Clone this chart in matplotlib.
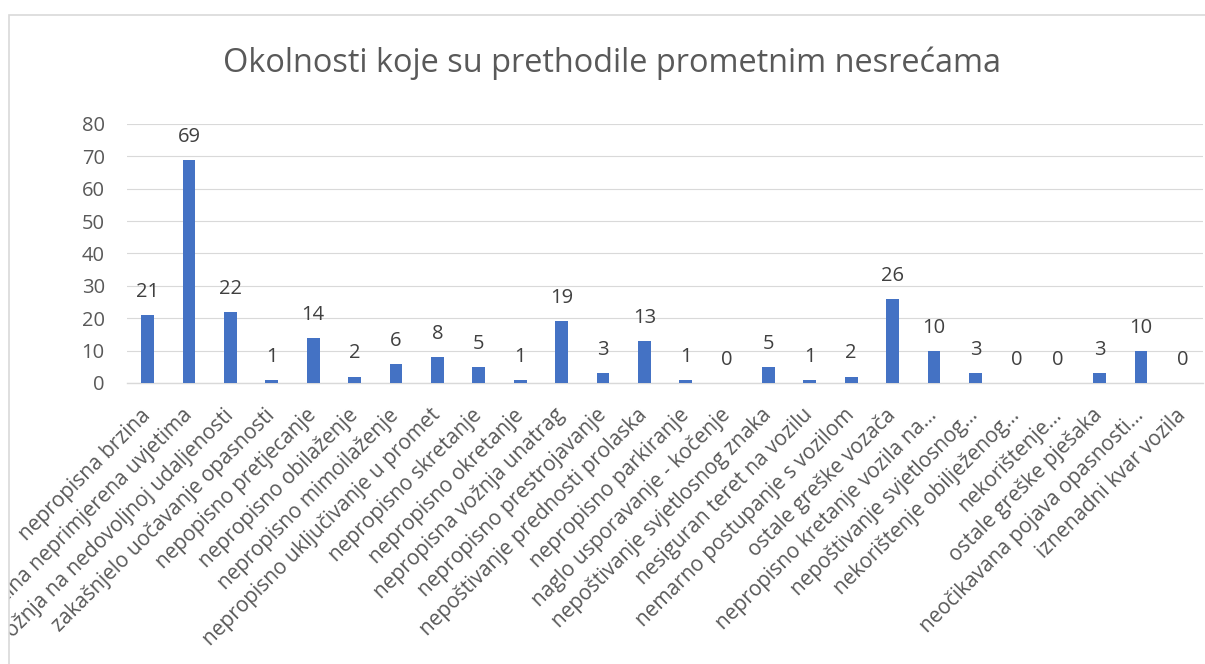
import matplotlib.pyplot as plt
from matplotlib.patches import Rectangle
from matplotlib.transforms import Bbox, TransformedBbox

categories = [
    "nepropisna brzina",
    "brzina neprimjerena uvjetima",
    "vožnja na nedovoljnoj udaljenosti",
    "zakašnjelo uočavanje opasnosti",
    "nepopisno pretjecanje",
    "nepropisno obilaženje",
    "nepropisno mimoilaženje",
    "nepropisno uključivanje u promet",
    "nepropisno skretanje",
    "nepropisno okretanje",
    "nepropisna vožnja unatrag",
    "nepropisno prestrojavanje",
    "nepoštivanje prednosti prolaska",
    "nepropisno parkiranje",
    "naglo usporavanje - kočenje",
    "nepoštivanje svjetlosnog znaka",
    "nesiguran teret na vozilu",
    "nemarno postupanje s vozilom",
    "ostale greške vozača",
    "nepropisno kretanje vozila na…",
    "nepoštivanje svjetlosnog…",
    "nekorištenje obilježenog…",
    "nekorištenje…",
    "ostale greške pješaka",
    "neočikavana pojava opasnosti…",
    "iznenadni kvar vozila",
]
values = [21, 69, 22, 1, 14, 2, 6, 8, 5, 1, 19, 3, 13, 1, 0, 5, 1, 2, 26, 10, 3, 0, 0, 3, 10, 0]
y_ticks = [0, 10, 20, 30, 40, 50, 60, 70, 80]

plt.rcParams['font.family'] = ['Open Sans', 'DejaVu Sans']

W, H = 1205, 664
fig = plt.figure(figsize=(W / 100, H / 100), dpi=100)
ax = fig.add_axes([127 / W, 1 - 383 / H, 1076 / W, 259 / H])

x = list(range(len(values)))
bars = ax.bar(x, values, width=0.31, color='#4472C4', zorder=3)

for xi, v in zip(x, values):
    ax.annotate(str(v), (xi, v), xytext=(0, 13), textcoords='offset points',
                ha='center', va='baseline', fontsize=14.5, color='#404040')

ax.set_xlim(-0.5, len(values) - 0.5)
ax.set_ylim(0, 80)
ax.set_yticks(y_ticks)
ax.yaxis.grid(True, color='#d9d9d9', linewidth=0.8, zorder=0)
ax.set_axisbelow(True)
for s in ['top', 'right', 'left']:
    ax.spines[s].set_visible(False)
ax.spines['bottom'].set_color('#d9d9d9')
ax.spines['bottom'].set_linewidth(1.0)
ax.tick_params(axis='y', length=0, pad=16, labelsize=14.5, labelcolor='#595959')
ax.tick_params(axis='x', length=0, pad=21, labelsize=15, labelcolor='#595959')

ax.set_xticks(x)
ax.set_xticklabels(categories, rotation=45, ha='right', va='center', rotation_mode='anchor')

# the chart frame cuts the long labels on the left, like in the original
clip = TransformedBbox(Bbox([[9 / W, 0], [1, 1 - 15 / H]]), fig.transFigure)
for lab in ax.get_xticklabels():
    lab.set_clip_on(True)
    lab.set_clip_box(clip)

fig.text(612 / W, 1 - 63 / H, "Okolnosti koje su prethodile prometnim nesrećama",
         ha='center', va='center', fontsize=23.4, color='#595959')

fig.patches.append(Rectangle((8.5 / W, -0.05), 1.1, 1.05 - 14.5 / H, transform=fig.transFigure,
                             fill=False, edgecolor='#d9d9d9', linewidth=1.2))

fig.savefig('out.png', dpi=100)
